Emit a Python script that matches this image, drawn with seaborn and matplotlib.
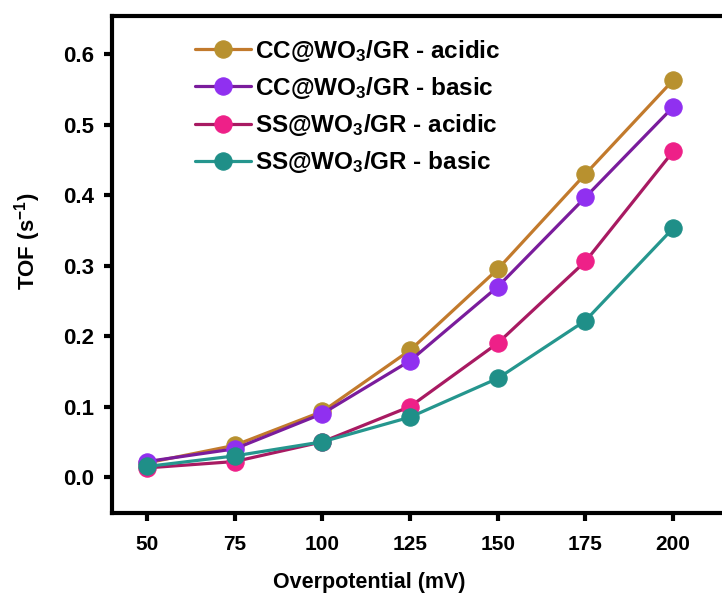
import matplotlib
matplotlib.use("Agg")
import matplotlib.pyplot as plt
import seaborn as sns
import pandas as pd

overpotential = [50, 75, 100, 125, 150, 175, 200]
cc_acidic = [0.020, 0.045, 0.093, 0.180, 0.295, 0.430, 0.563]
cc_basic = [0.022, 0.040, 0.090, 0.165, 0.270, 0.397, 0.525]
ss_acidic = [0.013, 0.022, 0.050, 0.100, 0.190, 0.306, 0.462]
ss_basic = [0.015, 0.030, 0.050, 0.085, 0.140, 0.222, 0.353]
series_labels = [r"CC@WO$_3$/GR - acidic", r"CC@WO$_3$/GR - basic",
                 r"SS@WO$_3$/GR - acidic", r"SS@WO$_3$/GR - basic"]
x_ticks = [50, 75, 100, 125, 150, 175, 200]
y_ticks = [0.0, 0.1, 0.2, 0.3, 0.4, 0.5, 0.6]

line_colors = ["#c27a2c", "#7a1c9c", "#a81a62", "#25968e"]
marker_colors = ["#b8912f", "#9030f0", "#ee2088", "#1f8f88"]

sns.set_style("white")
plt.rcParams["font.family"] = ["Liberation Sans", "DejaVu Sans"]
plt.rcParams["font.weight"] = "bold"
plt.rcParams["text.color"] = "black"
plt.rcParams["axes.labelcolor"] = "black"
plt.rcParams["xtick.color"] = "black"
plt.rcParams["ytick.color"] = "black"
plt.rcParams["mathtext.fontset"] = "custom"
plt.rcParams["mathtext.rm"] = "Liberation Sans:bold"
plt.rcParams["mathtext.bf"] = "Liberation Sans:bold"
plt.rcParams["mathtext.default"] = "bf"

df = pd.DataFrame({
    "x": overpotential * 4,
    "y": cc_acidic + cc_basic + ss_acidic + ss_basic,
    "s": sum([[l] * len(overpotential) for l in series_labels], []),
})

fig = plt.figure(figsize=(7.22, 5.99), dpi=100)
ax = fig.add_axes([112 / 722, 86 / 599, 618 / 722, 497 / 599])

for lab, lc, mc in zip(series_labels, line_colors, marker_colors):
    sub = df[df["s"] == lab]
    sns.lineplot(data=sub, x="x", y="y", ax=ax, color=lc, lw=2.3,
                 marker="o", markersize=12.5, markerfacecolor=mc,
                 markeredgecolor=mc, label=lab)

ax.set_xlim(40, 216.2)
ax.set_ylim(-0.051, 0.654)
ax.set_xticks(x_ticks)
ax.set_xticklabels([str(v) for v in x_ticks])
ax.set_yticks(y_ticks)
ax.set_yticklabels([f"{v:.1f}" for v in y_ticks])
ax.tick_params(axis="both", direction="out", length=6, width=3,
               pad=8, color="black", bottom=True, left=True)
ax.tick_params(axis="x", labelsize=15, pad=10)
ax.tick_params(axis="y", labelsize=16, pad=7)
for t in ax.get_xticklabels() + ax.get_yticklabels():
    t.set_fontweight("bold")
    t.set_color("black")
for side in ["left", "bottom", "top"]:
    ax.spines[side].set_visible(True)
    ax.spines[side].set_linewidth(3)
    ax.spines[side].set_color("black")
ax.spines["right"].set_visible(False)

ax.set_xlabel("Overpotential (mV)", fontsize=15.5, fontweight="bold", color="black")
ax.set_ylabel(r"TOF (s$^{-1}$)", fontsize=16, fontweight="bold", color="black")
ax.xaxis.set_label_coords(0.417, -0.118)
ax.yaxis.set_label_coords(-0.112, 0.547)

leg = ax.legend(loc="upper left", bbox_to_anchor=(0.118, 0.976), frameon=False,
                fontsize=17.5, handlelength=2.3, handletextpad=0.2,
                labelspacing=0.46, borderaxespad=0)
for t in leg.get_texts():
    t.set_fontweight("bold")
    t.set_color("black")

fig.savefig("out.png", dpi=100)
